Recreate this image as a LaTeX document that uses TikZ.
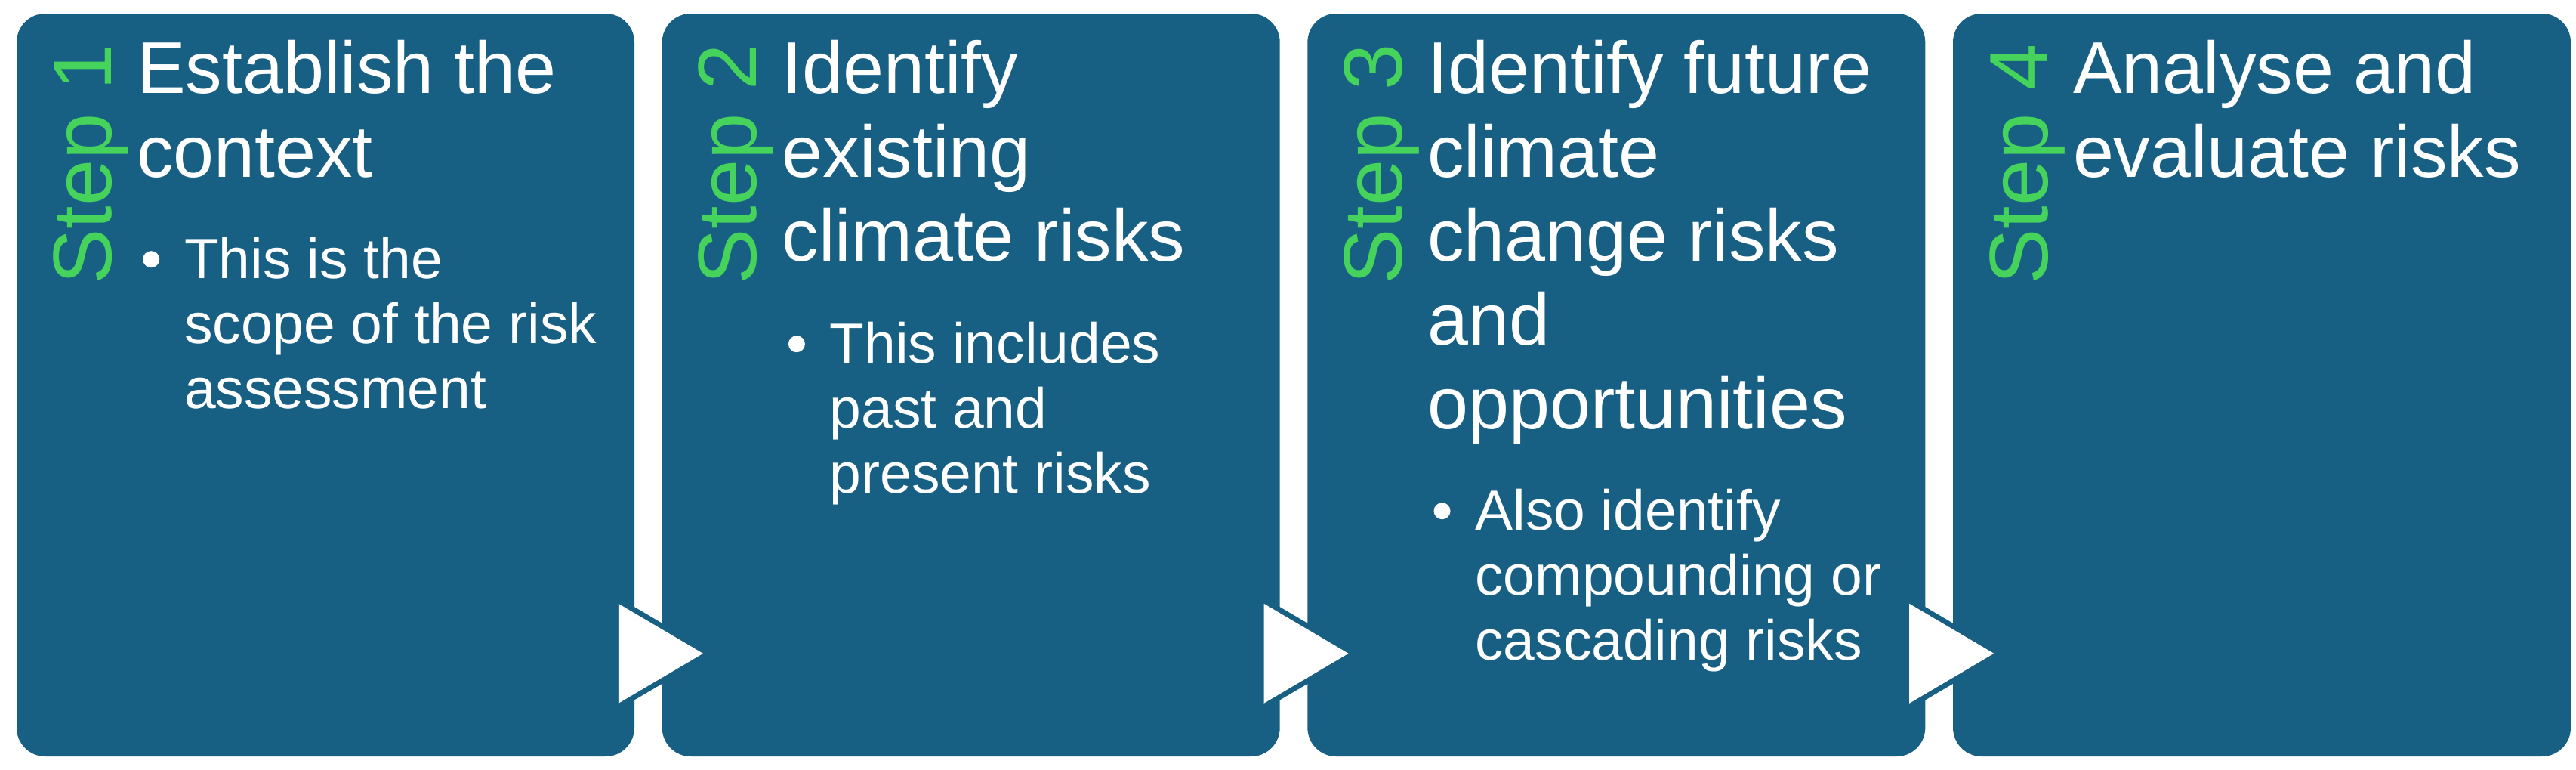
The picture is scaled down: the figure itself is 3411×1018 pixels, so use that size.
\documentclass[tikz,border=0pt]{standalone}
\usepackage{fontspec}
\setmainfont{Liberation Sans}
\usetikzlibrary{calc}
\definecolor{boxblue}{HTML}{186083}
\definecolor{stepgreen}{HTML}{45D35B}
\begin{document}
\begin{tikzpicture}[x=0.25pt, y=-0.25pt,
  stepbox/.style={fill=boxblue, draw=none, rounded corners=9.5pt, minimum width=204.5pt, minimum height=245.75pt, inner sep=0pt},
  steplabel/.style={text=stepgreen, rotate=90, anchor=base west, inner sep=0pt, font=\fontsize{27.5pt}{33pt}\selectfont},
  titletext/.style={text=white, anchor=base west, inner sep=0pt, font=\fontsize{24.25pt}{27.75pt}\selectfont},
  bullettext/.style={text=white, anchor=base west, inner sep=0pt, font=\fontsize{18.75pt}{21.5pt}\selectfont},
  bulletdot/.style={circle, fill=white, inner sep=0pt, minimum size=5.5pt},
  arrowstroke/.style={fill=white, draw=boxblue, line width=3.5pt, line join=round},
  arrowfill/.style={fill=white}
]
\useasboundingbox (0,0) rectangle (3411,1018);

% boxes
\node[stepbox] (b1) at (431,509.5) {};
\node[stepbox] (b2) at (1285.7,509.5) {};
\node[stepbox] (b3) at (2140.3,509.5) {};
\node[stepbox] (b4) at (2995,509.5) {};

% arrow heads between boxes
\foreach \a/\b in {b1/b2, b2/b3, b3/b4}{
  \coordinate (\a-t) at ($(\a.south east)+(-22,-203)$);
  \coordinate (\a-b) at ($(\a.south east)+(-22,-71)$);
  \coordinate (\a-p) at ($(\b.south west)+(55,-137)$);
  \filldraw[arrowstroke] (\a-t) -- (\a-p) -- (\a-b) -- cycle;
  \fill[arrowfill] (\a-t) -- (\a-p) -- (\a-b) -- cycle;
}

% step labels
\node[steplabel] (s1) at ($(b1.north west)+(126,360)$) {Step 1};
\node[steplabel] (s2) at ($(b2.north west)+(126,360)$) {Step 2};
\node[steplabel] (s3) at ($(b3.north west)+(126,360)$) {Step 3};
\node[steplabel] (s4) at ($(b4.north west)+(126,360)$) {Step 4};

% titles
\node[titletext] (t1) at ($(b1.north west)+(159,106)$) {\begin{tabular}[t]{@{}l@{}}Establish the\\context\end{tabular}};
\node[titletext] (t2) at ($(b2.north west)+(159,106)$) {\begin{tabular}[t]{@{}l@{}}Identify\\existing\\climate risks\end{tabular}};
\node[titletext] (t3) at ($(b3.north west)+(159,106)$) {\begin{tabular}[t]{@{}l@{}}Identify future\\climate\\change risks\\and\\opportunities\end{tabular}};
\node[titletext] (t4) at ($(b4.north west)+(159,106)$) {\begin{tabular}[t]{@{}l@{}}Analyse and\\evaluate risks\end{tabular}};

% bullets
\node[bulletdot] (d1) at ($(b1.north west)+(179,326)$) {};
\node[bullettext] (p1) at ($(b1.north west)+(222,351)$) {\begin{tabular}[t]{@{}l@{}}This is the\\scope of the risk\\assessment\end{tabular}};
\node[bulletdot] (d2) at ($(b2.north west)+(179,438)$) {};
\node[bullettext] (p2) at ($(b2.north west)+(222,463)$) {\begin{tabular}[t]{@{}l@{}}This includes\\past and\\present risks\end{tabular}};
\node[bulletdot] (d3) at ($(b3.north west)+(179,659)$) {};
\node[bullettext] (p3) at ($(b3.north west)+(222,684)$) {\begin{tabular}[t]{@{}l@{}}Also identify\\compounding or\\cascading risks\end{tabular}};
\end{tikzpicture}
\end{document}
